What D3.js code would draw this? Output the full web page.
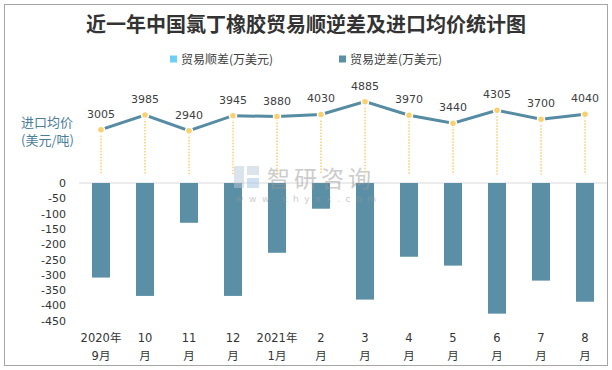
<!DOCTYPE html>
<html>
<head>
<meta charset="utf-8">
<script src="https://cdn.jsdelivr.net/npm/d3@7"></script>
<style>
  body { margin: 0; background: #fff; }
  text { font-family: "Noto Sans CJK SC", "Noto Sans", sans-serif; }
  .num { font-family: "DejaVu Sans", "Noto Sans CJK SC", sans-serif; }
</style>
</head>
<body>
<div id="chart"></div>
<script>
// Chart data
const months = ["2020年\n9月", "10\n月", "11\n月", "12\n月", "2021年\n1月", "2\n月", "3\n月", "4\n月", "5\n月", "6\n月", "7\n月", "8\n月"];
const surplus = [0, 0, 0, 0, 0, 0, 0, 0, 0, 0, 0, 0];
const deficit = [-309, -369, -130, -369, -228, -84, -381, -241, -270, -427, -319, -388];
const price = [3005, 3985, 2940, 3945, 3880, 4030, 4885, 3970, 3440, 4305, 3700, 4040];
const barTicks = [0, -50, -100, -150, -200, -250, -300, -350, -400, -450];

const width = 612, height = 370;
const barColor = "#5b8fa6", lineColor = "#568ba4", dotColor = "#f8d06d";

const svg = d3.select("#chart")
    .append("svg")
    .attr("width", width)
    .attr("height", height);

// frame
svg.append("rect")
    .attr("x", 4.5).attr("y", 4.5)
    .attr("width", 603).attr("height", 361)
    .attr("fill", "none")
    .attr("stroke", "#a6a6a6");

// title
svg.append("text")
    .attr("x", 306).attr("y", 32)
    .attr("text-anchor", "middle")
    .attr("font-size", 20)
    .attr("font-weight", "bold")
    .attr("fill", "#333")
    .text("近一年中国氯丁橡胶贸易顺逆差及进口均价统计图");

// legend
const legend = [
    { name: "贸易顺差(万美元)", color: "#6dcff6", x: 170 },
    { name: "贸易逆差(万美元)", color: barColor, x: 339 }
];
legend.forEach(l => {
    svg.append("rect").attr("x", l.x).attr("y", 55.5).attr("width", 7).attr("height", 7).attr("fill", l.color);
    svg.append("text").attr("x", l.x + 11).attr("y", 64)
        .attr("font-size", 12).attr("fill", "#404040").text(l.name);
});

// scales
const x = d3.scaleBand().domain(months).range([79, 607]).paddingInner(0.59).paddingOuter(0.295);
const yBar = d3.scaleLinear().domain([-450, 0]).range([320.7, 183]);
const yLine = d3.scaleLinear().domain([0, 6000]).range([174.5, 85]);

// zero line
svg.append("line")
    .attr("x1", 79).attr("x2", 607)
    .attr("y1", yBar(0)).attr("y2", yBar(0))
    .attr("stroke", "#d9d9d9");

// bars
svg.append("g")
    .selectAll("rect")
    .data(deficit)
    .join("rect")
    .attr("x", (d, i) => x(months[i]))
    .attr("y", yBar(0))
    .attr("width", x.bandwidth())
    .attr("height", d => yBar(d) - yBar(0))
    .attr("fill", barColor);

// watermark (drawn over the bars, semi-transparent)
const wm = svg.append("g").attr("opacity", 0.5);
wm.append("rect").attr("x", 234).attr("y", 166).attr("width", 10).attr("height", 22).attr("fill", "#b9c8d8");
wm.append("rect").attr("x", 247).attr("y", 166).attr("width", 12).attr("height", 9).attr("fill", "#b9c8d8");
wm.append("rect").attr("x", 247).attr("y", 178).attr("width", 12).attr("height", 10).attr("fill", "#9fc3e6");
wm.append("text").attr("x", 267).attr("y", 187).attr("font-size", 23).attr("fill", "#9a9a9a")
    .attr("letter-spacing", 4).text("智研咨询");
wm.append("text").attr("class", "num").attr("x", 236).attr("y", 202).attr("font-size", 9).attr("fill", "#9a9a9a")
    .attr("letter-spacing", 5.6).text("www.chyxx.com");

// bar axis labels
svg.append("g")
    .selectAll("text")
    .data(barTicks)
    .join("text")
    .attr("class", "num")
    .attr("x", 66)
    .attr("y", d => yBar(d) + 4)
    .attr("text-anchor", "end")
    .attr("font-size", 11)
    .attr("fill", "#333")
    .text(d => d);

// month labels
const mlab = svg.append("g")
    .selectAll("text")
    .data(months)
    .join("text")
    .attr("class", "num")
    .attr("text-anchor", "middle")
    .attr("font-size", 11.5)
    .attr("fill", "#333");
mlab.each(function(d) {
    const cx = x(d) + x.bandwidth() / 2;
    d.split("\n").forEach((s, k) => {
        d3.select(this).append("tspan")
            .attr("x", cx)
            .attr("y", 342 + k * 18)
            .text(s);
    });
});

// line axis title
svg.append("text").attr("x", 21).attr("y", 127).attr("font-size", 13).attr("fill", "#4a7d98").text("进口均价");
svg.append("text").attr("x", 21).attr("y", 145).attr("font-size", 13).attr("fill", "#4a7d98").text("(美元/吨)");

const cx = i => x(months[i]) + x.bandwidth() / 2;

// drop lines
svg.append("g")
    .selectAll("line")
    .data(price)
    .join("line")
    .attr("x1", (d, i) => cx(i)).attr("x2", (d, i) => cx(i))
    .attr("y1", d => yLine(d)).attr("y2", yLine(0))
    .attr("stroke", dotColor)
    .attr("stroke-width", 1.5)
    .attr("stroke-dasharray", "1.5,1.5");

// price line
svg.append("path")
    .datum(price)
    .attr("d", d3.line().x((d, i) => cx(i)).y(d => yLine(d)))
    .attr("fill", "none")
    .attr("stroke", lineColor)
    .attr("stroke-width", 3);

svg.append("g")
    .selectAll("circle")
    .data(price)
    .join("circle")
    .attr("cx", (d, i) => cx(i))
    .attr("cy", d => yLine(d))
    .attr("r", 3.5)
    .attr("fill", dotColor)
    .attr("stroke", "#fff")
    .attr("stroke-width", 1.5);

svg.append("g")
    .selectAll("text")
    .data(price)
    .join("text")
    .attr("class", "num")
    .attr("x", (d, i) => cx(i))
    .attr("y", d => yLine(d) - 12)
    .attr("text-anchor", "middle")
    .attr("font-size", 11)
    .attr("fill", "#404040")
    .text(d => d);
</script>
</body>
</html>
